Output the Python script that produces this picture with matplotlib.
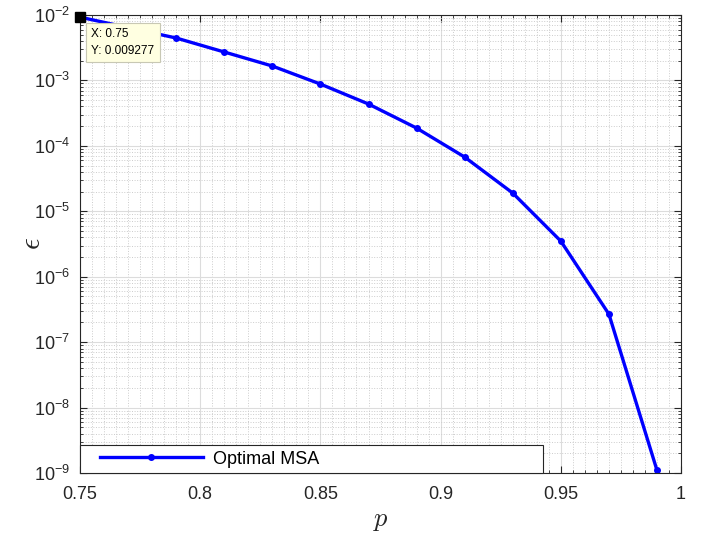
import matplotlib
matplotlib.use("Agg")
import matplotlib.pyplot as plt
from matplotlib.ticker import LogLocator, MultipleLocator, NullFormatter
from matplotlib.legend_handler import HandlerLine2D
import numpy as np

# Data
p = [0.75, 0.79, 0.81, 0.83, 0.85, 0.87, 0.89, 0.91, 0.93, 0.95, 0.97, 0.99]
eps = [9.277e-3, 4.45e-3, 2.72e-3, 1.66e-3, 8.8e-4, 4.36e-4, 1.87e-4,
       6.74e-5, 1.90e-5, 3.5e-6, 2.68e-7, 1.1e-9]
x_ticks = [0.75, 0.8, 0.85, 0.9, 0.95, 1.0]
x_tick_labels = ["0.75", "0.8", "0.85", "0.9", "0.95", "1"]
tip_x, tip_y = 0.75, 0.009277

plt.rcParams["font.family"] = ["Liberation Sans", "DejaVu Sans"]
plt.rcParams["mathtext.fontset"] = "cm"

dark = "#262626"
fig = plt.figure(figsize=(7.1, 5.36), dpi=100)
ax = fig.add_axes([0.1127, 0.1175, 0.8465, 0.8545])

line, = ax.semilogy(p, eps, color="b", linewidth=2.4, marker="o",
                    markersize=4, label="Optimal MSA")

ax.set_xlim(0.75, 1.0)
ax.set_ylim(1e-9, 1e-2)
ax.set_xticks(x_ticks)
ax.set_xticklabels(x_tick_labels)
ax.xaxis.set_minor_locator(MultipleLocator(0.005))
ax.yaxis.set_major_locator(LogLocator(base=10, numticks=20))
ax.yaxis.set_minor_locator(LogLocator(base=10, subs=np.arange(2, 10), numticks=20))
ax.yaxis.set_minor_formatter(NullFormatter())

ax.tick_params(which="both", direction="in", top=True, right=True,
               colors=dark, labelsize=13)
ax.tick_params(axis="x", which="major", pad=9)
ax.tick_params(axis="y", which="major", pad=7)
ax.tick_params(which="major", length=5)
ax.tick_params(which="minor", length=2.5)
for s in ax.spines.values():
    s.set_color(dark)
    s.set_linewidth(0.8)

ax.grid(True, which="major", color="#dcdcdc", linewidth=0.8)
ax.grid(True, which="minor", color="#cccccc", linestyle=":", linewidth=0.7)
ax.set_axisbelow(True)

ax.set_xlabel("$p$", fontsize=19, color=dark)
ax.set_ylabel(r"$\epsilon$", fontsize=21, color=dark)
ax.xaxis.set_label_coords(0.5, -0.079)
ax.yaxis.set_label_coords(-0.057, 0.5)

# data tip
ax.plot([tip_x], [tip_y], marker="s", color="k", markersize=7, clip_on=False,
        zorder=5)
ax.annotate("X: 0.75\nY: 0.009277", xy=(tip_x, tip_y), xytext=(8, -8),
            textcoords="offset points", ha="left", va="top", fontsize=8.5,
            color="k", linespacing=1.5,
            bbox=dict(boxstyle="square,pad=0.45", fc="#ffffe1", ec="#c8c8b4",
                      lw=0.8), zorder=6)

leg = ax.legend(loc="lower left", bbox_to_anchor=(0, 0, 0.77, 0.066),
                mode="expand", borderaxespad=0, fancybox=False,
                edgecolor=dark, framealpha=1, fontsize=13,
                handlelength=6.5, handletextpad=0.55, borderpad=0.3,
                handler_map={line: HandlerLine2D(xpad=0.8)})
leg.get_frame().set_linewidth(0.8)

fig.savefig("out.png", dpi=100)
